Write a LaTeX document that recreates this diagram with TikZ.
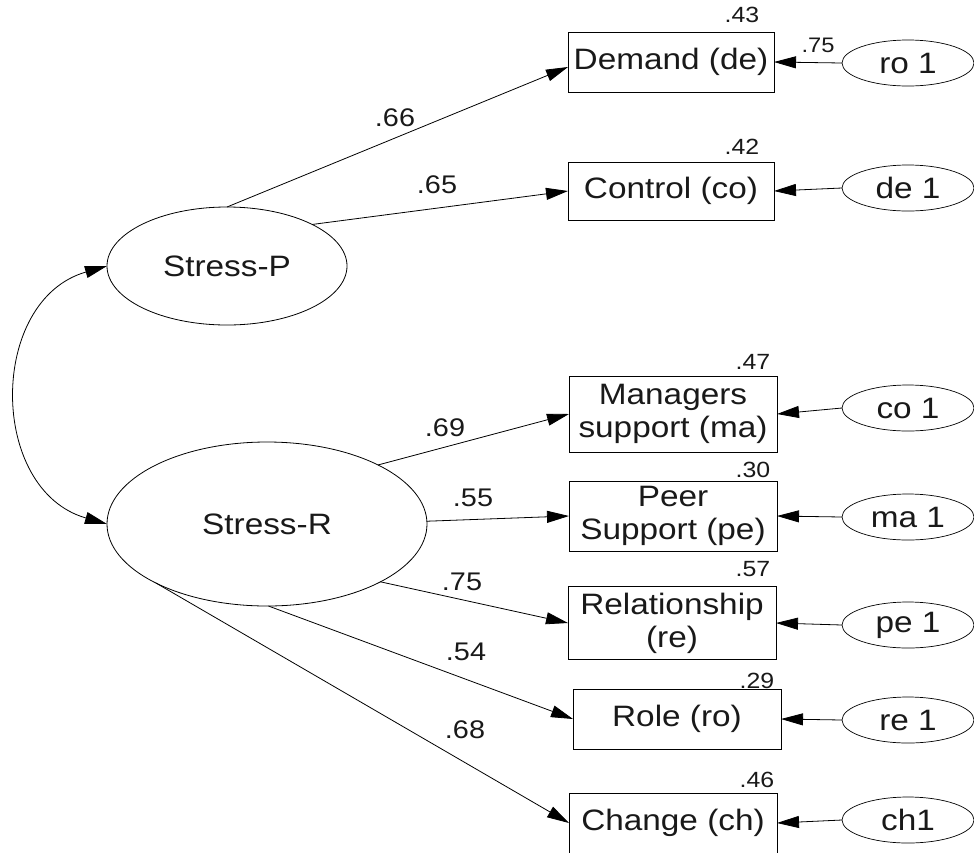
\documentclass[tikz,border=0pt]{standalone}
\usepackage{fontspec}
\newfontfamily\labfont[FakeStretch=1.13]{Liberation Sans}
\usetikzlibrary{shapes.geometric,arrows.meta,calc}
\begin{document}
\begin{tikzpicture}[x=1pt,y=-1pt,
  every node/.style={inner sep=0pt, outer sep=0pt, text=black!90},
  obs/.style={draw, line width=0.8pt, minimum width=208pt, align=center,
    font=\labfont\fontsize{29.5}{33}\selectfont},
  lat/.style={draw, ellipse, line width=0.8pt,
    font=\labfont\fontsize{29.5}{33}\selectfont},
  err/.style={draw, ellipse, line width=0.7pt, minimum width=132pt, minimum height=46pt,
    font=\labfont\fontsize{29.5}{33}\selectfont},
  rsq/.style={font=\labfont\fontsize{22}{22}\selectfont},
  coef/.style={font=\labfont\fontsize{25.5}{26}\selectfont},
  arr/.style={-{Triangle[length=22pt,width=12pt]}, line width=0.8pt},
  dbl/.style={{Triangle[length=22pt,width=12pt]}-{Triangle[length=22pt,width=12pt]}, line width=0.8pt}]
\useasboundingbox[fill=white] (0,0) rectangle (974,852);

% latent variables
\node[lat, minimum width=240pt, minimum height=118pt] (sp) at (227,266) {Stress-P};
\node[lat, minimum width=320pt, minimum height=164pt] (sr) at (267,524) {Stress-R};

% observed variables
\node[obs, minimum width=206pt, minimum height=60pt] (de) at (671,62) {Demand (de)};
\node[obs, minimum width=206pt, minimum height=58pt] (co) at (671,191) {Control (co)};
\node[obs, minimum height=76pt] (ma) at (673,414) {Managers\\support (ma)};
\node[obs, minimum height=70pt] (pe) at (673,516) {Peer\\Support (pe)};
\node[obs, minimum height=73pt] (re) at (672,623) {Relationship\\(re)};
\node[obs, minimum height=60pt] (ro) at (677,719) {Role (ro)};
\node[obs, minimum height=60pt] (ch) at (673,823) {Change (ch)};

% error terms
\node[err] (e1) at (908,63) {ro 1};
\node[err] (e2) at (908,188) {de 1};
\node[err] (e3) at (908,408) {co 1};
\node[err] (e4) at (908,517) {ma 1};
\node[err] (e5) at (908,625) {pe 1};
\node[err] (e6) at (908,720) {re 1};
\node[err] (e7) at (908,820) {ch1};

% squared multiple correlations
\node[rsq] (r1) at (742,15) {.43};
\node[rsq] (r2) at (742,147) {.42};
\node[rsq] (r3) at (753,362) {.47};
\node[rsq] (r4) at (753,470) {.30};
\node[rsq] (r5) at (753,569) {.57};
\node[rsq] (r6) at (757,681) {.29};
\node[rsq] (r7) at (757,780) {.46};
\node[font=\labfont\fontsize{21}{21}\selectfont] (r0) at (818,45) {.75};

% loadings
\draw[arr] (sp.90) -- ($(de.west)+(0,5)$);
\draw[arr] (sp.26) -- (co.west);
\draw[arr] (sr.28) -- (ma.west);
\draw[arr] (sr.1) -- (pe.west);
\draw[arr] (sr.-27) -- (re.west);
\draw[arr] (sr.-89) -- (ro.west);
\draw[arr] (sr.-152) -- (ch.west);

\node[coef] (l1) at (395,118) {.66};
\node[coef] (l2) at (437,185) {.65};
\node[coef] (l3) at (445,428) {.69};
\node[coef] (l4) at (473,498) {.55};
\node[coef] (l5) at (462,582) {.75};
\node[coef] (l6) at (466,652) {.54};
\node[coef] (l7) at (465,730) {.68};

% error arrows
\draw[arr] (e1.west) -- (de.east);
\draw[arr] (e2.west) -- (co.east);
\draw[arr] (e3.west) -- (ma.east);
\draw[arr] (e4.west) -- (pe.east);
\draw[arr] (e5.west) -- (re.east);
\draw[arr] (e6.west) -- (ro.east);
\draw[arr] (e7.west) -- (ch.east);

% covariance
\draw[dbl] (sp.west) .. controls (-12,300) and (-12,490) .. (sr.west);
\end{tikzpicture}
\end{document}
